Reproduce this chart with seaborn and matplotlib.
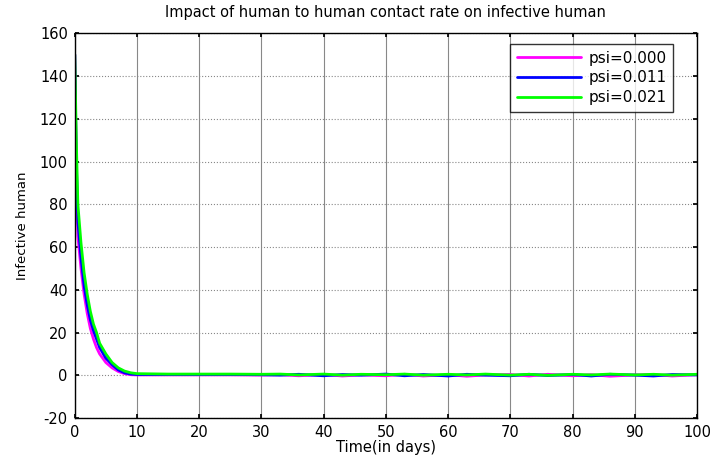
import numpy as np
import pandas as pd
import matplotlib
matplotlib.use("Agg")
import matplotlib.pyplot as plt
import seaborn as sns

# time points (days)
time = [0, 0.25, 0.5, 1, 1.5, 2, 2.5, 3, 3.5, 4, 5, 6, 7, 8, 9, 10,
        15, 20, 25, 30, 33, 36, 40, 43, 46, 50, 53, 56, 60, 63, 66, 70,
        73, 76, 80, 83, 86, 90, 93, 96, 100]

psi_000 = [150, 95, 65, 50, 38, 29, 22, 17, 13, 10, 6, 3.5, 1.8, 0.8, 0.3, 0.2,
           0.2, 0.2, 0.2, 0.1, 0.3, -0.2, 0.4, -0.3, 0.2, -0.2, 0.5, -0.3, 0.3, -0.4, 0.2,
           0.4, -0.3, 0.5, -0.2, 0.3, -0.4, 0.2, 0.4, -0.3, 0.3]
psi_011 = [150, 100, 72, 55, 42, 33, 26, 21, 17, 13, 8, 5, 2.5, 1.2, 0.6, 0.4,
           0.4, 0.4, 0.4, 0.3, 0.1, 0.5, -0.2, 0.4, 0.1, 0.6, -0.2, 0.4, -0.3, 0.5, 0.1,
           -0.2, 0.5, -0.1, 0.4, -0.3, 0.5, 0.1, -0.3, 0.4, 0.2]
psi_021 = [150, 110, 80, 62, 48, 38, 30, 24, 20, 15, 10, 6, 3.5, 2, 1.2, 0.8,
           0.6, 0.6, 0.6, 0.5, 0.6, 0.2, 0.6, 0.1, 0.5, 0.3, 0.6, 0.1, 0.5, 0.2, 0.6,
           0.1, 0.5, 0.0, 0.5, 0.2, 0.6, 0.2, 0.5, 0.1, 0.5]

labels = ["psi=0.000", "psi=0.011", "psi=0.021"]
colors = ["#ff00ff", "#0000ff", "#00ff00"]

xticks = list(range(0, 101, 10))
yticks = list(range(-20, 161, 20))

df = pd.concat([
    pd.DataFrame({"time": time, "value": v, "series": lab})
    for v, lab in zip([psi_000, psi_011, psi_021], labels)
])

sns.set_theme(style="white")
plt.rcParams["font.family"] = ["DejaVu Sans"]
plt.rcParams["axes.unicode_minus"] = False
plt.rcParams["text.color"] = "black"
plt.rcParams["axes.labelcolor"] = "black"

fig = plt.figure(figsize=(7.12, 4.61), dpi=100)
ax = fig.add_axes([0.105, 0.093, 0.874, 0.835])

sns.lineplot(data=df, x="time", y="value", hue="series", palette=colors,
             hue_order=labels, linewidth=2, ax=ax, sort=False)

ax.set_xlim(0, 100)
ax.set_ylim(-20, 160)
ax.set_xticks(xticks)
ax.set_yticks(yticks)
ax.tick_params(axis="both", direction="in", labelsize=10.5, length=3,
               color="black", labelcolor="black", top=True, right=True,
               bottom=True, left=True, pad=5)
ax.xaxis.grid(True, color="#888888", linestyle="-", linewidth=0.8)
ax.yaxis.grid(True, color="#888888", linestyle=":", linewidth=0.8)
for s in ax.spines.values():
    s.set_color("black")
    s.set_linewidth(1.0)

ax.set_xlabel("Time(in days)", fontsize=10.5, labelpad=0, color="black")
ax.set_ylabel("Infective human", fontsize=9.5, labelpad=8, color="black")
ax.set_title("Impact of human to human contact rate on infective human",
             fontsize=10.5, pad=12, color="black")

leg = ax.legend(loc="upper right", bbox_to_anchor=(0.962, 0.972),
                fontsize=11, handlelength=4.2, frameon=True, fancybox=False,
                borderpad=0.45, labelspacing=0.3, handletextpad=0.5,
                borderaxespad=0, labelcolor="black")
leg.get_frame().set_edgecolor("black")
leg.get_frame().set_linewidth(1.0)

fig.savefig("out.png", dpi=100)
